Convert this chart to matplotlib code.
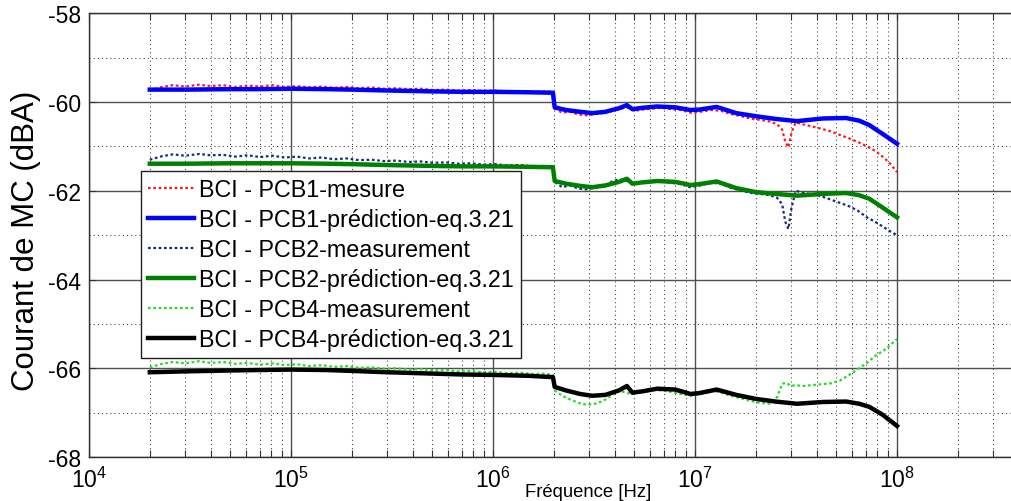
import matplotlib
matplotlib.use("Agg")
import matplotlib.pyplot as plt
from matplotlib.ticker import LogLocator, MultipleLocator, NullFormatter

plt.rcParams['font.family'] = ['Liberation Sans', 'DejaVu Sans']
plt.rcParams['axes.unicode_minus'] = False
plt.rcParams['mathtext.fontset'] = 'custom'
plt.rcParams['mathtext.rm'] = 'Liberation Sans'
plt.rcParams['mathtext.it'] = 'Liberation Sans:italic'
plt.rcParams['mathtext.bf'] = 'Liberation Sans:bold'

# ---------------- data ----------------
labels = ["BCI - PCB1-mesure", "BCI - PCB1-prédiction-eq.3.21",
          "BCI - PCB2-measurement", "BCI - PCB2-prédiction-eq.3.21",
          "BCI - PCB4-measurement", "BCI - PCB4-prédiction-eq.3.21"]

f_pred = [2e4, 3e4, 5e4, 7e4, 1e5, 1.5e5, 2e5, 3e5, 5e5, 7e5, 1e6, 1.5e6, 1.98e6,
          2.02e6, 2.3e6, 2.7e6, 3.1e6, 3.6e6, 4.2e6, 4.6e6, 4.9e6, 5.5e6, 6.5e6, 8e6,
          9.5e6, 1.05e7, 1.28e7, 1.6e7, 2.0e7, 2.5e7, 3.2e7, 4.3e7, 5.6e7, 6.5e7,
          7.3e7, 8.5e7, 1e8]

pcb1_pred = [-59.72, -59.72, -59.71, -59.71, -59.70, -59.71, -59.72, -59.74, -59.76,
             -59.77, -59.77, -59.78, -59.79,
             -60.12, -60.18, -60.22, -60.25, -60.22, -60.14, -60.07, -60.16, -60.13,
             -60.10, -60.12, -60.18, -60.17, -60.11, -60.25, -60.32, -60.38, -60.43,
             -60.37, -60.36, -60.42, -60.52, -60.72, -60.94]

pcb2_pred = [-61.39, -61.39, -61.38, -61.38, -61.38, -61.39, -61.40, -61.42, -61.44,
             -61.45, -61.45, -61.46, -61.47,
             -61.78, -61.84, -61.89, -61.92, -61.88, -61.80, -61.73, -61.84, -61.81,
             -61.78, -61.80, -61.87, -61.85, -61.79, -61.94, -62.03, -62.07, -62.11,
             -62.07, -62.05, -62.10, -62.18, -62.38, -62.60]

pcb4_pred = [-66.09, -66.07, -66.05, -66.04, -66.03, -66.04, -66.06, -66.09, -66.12,
             -66.14, -66.15, -66.17, -66.20,
             -66.42, -66.50, -66.58, -66.62, -66.60, -66.50, -66.40, -66.55, -66.52,
             -66.46, -66.48, -66.58, -66.56, -66.48, -66.60, -66.69, -66.75, -66.80,
             -66.76, -66.75, -66.80, -66.87, -67.05, -67.30]

f_meas = [2.0e4, 2.3e4, 2.6e4, 3.0e4, 3.5e4, 4.0e4, 4.6e4, 5.3e4, 6.1e4, 7.0e4, 8.1e4,
          9.3e4, 1.07e5, 1.23e5, 1.42e5, 1.64e5, 1.88e5, 2.17e5, 2.5e5, 2.88e5,
          3.31e5, 3.82e5, 4.4e5, 5.06e5, 5.83e5, 6.72e5, 7.74e5, 8.91e5, 1.03e6,
          1.18e6, 1.36e6, 1.57e6, 1.8e6, 1.98e6,
          2.02e6, 2.2e6, 2.4e6, 2.65e6, 2.9e6, 3.2e6, 3.5e6, 3.85e6, 4.2e6, 4.6e6,
          5.0e6, 5.5e6, 6.1e6, 6.8e6, 7.6e6, 8.5e6, 9.5e6,
          1.06e7, 1.2e7, 1.35e7, 1.5e7, 1.7e7, 1.9e7, 2.1e7, 2.35e7, 2.55e7, 2.7e7,
          2.8e7, 2.9e7, 3.0e7, 3.15e7, 3.4e7, 3.8e7, 4.2e7, 4.7e7, 5.2e7, 5.8e7,
          6.4e7, 7.1e7, 7.8e7, 8.6e7, 9.3e7, 1.0e8]

pcb1_meas = [-59.74, -59.66, -59.62, -59.65, -59.61, -59.64, -59.62, -59.66, -59.63,
             -59.65, -59.62, -59.66, -59.64, -59.67, -59.65, -59.68, -59.66, -59.69,
             -59.67, -59.70, -59.69, -59.71, -59.70, -59.73, -59.72, -59.74, -59.73,
             -59.75, -59.74, -59.76, -59.75, -59.77, -59.76, -59.78,
             -60.15, -60.24, -60.22, -60.28, -60.30, -60.27, -60.25, -60.20, -60.16,
             -60.12, -60.20, -60.17, -60.15, -60.13, -60.16, -60.18, -60.24,
             -60.22, -60.18, -60.20, -60.27, -60.32, -60.38, -60.40, -60.44, -60.50,
             -60.62, -60.90, -61.02, -60.70, -60.46, -60.50, -60.55, -60.60, -60.66,
             -60.74, -60.82, -60.90, -61.00, -61.10, -61.25, -61.40, -61.58]

pcb2_meas = [-61.30, -61.22, -61.18, -61.21, -61.17, -61.20, -61.19, -61.23, -61.20,
             -61.24, -61.21, -61.25, -61.23, -61.27, -61.25, -61.29, -61.27, -61.31,
             -61.30, -61.33, -61.32, -61.35, -61.34, -61.37, -61.36, -61.39, -61.38,
             -61.41, -61.40, -61.43, -61.42, -61.45, -61.44, -61.46,
             -61.80, -61.92, -61.88, -61.95, -61.97, -61.93, -61.90, -61.80, -61.74,
             -61.78, -61.84, -61.82, -61.80, -61.79, -61.82, -61.85, -61.92,
             -61.88, -61.82, -61.84, -61.93, -62.00, -62.05, -62.07, -62.10, -62.16,
             -62.30, -62.70, -62.86, -62.40, -62.00, -62.04, -62.08, -62.12, -62.20,
             -62.27, -62.35, -62.45, -62.60, -62.70, -62.82, -62.92, -63.00]

pcb4_meas = [-65.98, -65.90, -65.86, -65.89, -65.84, -65.88, -65.86, -65.90, -65.88,
             -65.92, -65.89, -65.93, -65.91, -65.95, -65.93, -65.97, -65.95, -65.99,
             -65.98, -66.01, -66.00, -66.03, -66.02, -66.05, -66.04, -66.07, -66.06,
             -66.09, -66.08, -66.11, -66.10, -66.13, -66.12, -66.15,
             -66.50, -66.62, -66.70, -66.78, -66.82, -66.80, -66.74, -66.62, -66.50,
             -66.56, -66.58, -66.52, -66.48, -66.50, -66.53, -66.58, -66.62,
             -66.58, -66.50, -66.55, -66.62, -66.68, -66.74, -66.78, -66.80, -66.65,
             -66.35, -66.33, -66.36, -66.40, -66.38, -66.40, -66.38, -66.36, -66.34,
             -66.28, -66.15, -66.02, -65.88, -65.72, -65.60, -65.47, -65.34]

x_limits = [1e4, 1e9]
x_ticks = [1e4, 1e5, 1e6, 1e7, 1e8, 1e9]
x_tick_labels = [r'$10^{4}$', r'$10^{5}$', r'$10^{6}$', r'$10^{7}$', r'$10^{8}$', '']
y_limits = [-68, -58]
y_ticks = [-68, -66, -64, -62, -60, -58]

# ---------------- figure ----------------
W, H = 1011, 502
fig = plt.figure(figsize=(W / 100, H / 100), dpi=100)
ax = fig.add_axes([89 / W, 44 / H, 1010 / W, 443.7 / H])

meas_ls = (0, (1.2, 1.2))
ax.plot(f_meas, pcb1_meas, color='#ff1a1a', lw=1.6, ls=meas_ls, label=labels[0], zorder=3)
ax.plot(f_pred, pcb1_pred, color='#0000ff', lw=3.2, label=labels[1], zorder=4)
ax.plot(f_meas, pcb2_meas, color='#1a2a80', lw=1.6, ls=meas_ls, label=labels[2], zorder=3)
ax.plot(f_pred, pcb2_pred, color='#008000', lw=3.2, label=labels[3], zorder=4)
ax.plot(f_meas, pcb4_meas, color='#22dd22', lw=1.6, ls=meas_ls, label=labels[4], zorder=3)
ax.plot(f_pred, pcb4_pred, color='#000000', lw=3.2, label=labels[5], zorder=4)

ax.set_xscale('log')
ax.set_xlim(x_limits)
ax.set_ylim(y_limits)
ax.set_xticks(x_ticks, labels=x_tick_labels)
ax.set_yticks(y_ticks)
ax.yaxis.set_minor_locator(MultipleLocator(1))
ax.xaxis.set_minor_locator(LogLocator(base=10, subs=[2, 3, 4, 5, 6, 7, 8, 9], numticks=20))
ax.xaxis.set_minor_formatter(NullFormatter())
ax.set_xlim(x_limits)

ax.grid(True, which='major', color='#505050', lw=1.0, ls='-', zorder=0)
ax.grid(True, which='minor', color='#404040', lw=0.75, ls=(0, (1, 3)), zorder=0)
ax.set_axisbelow(True)

ax.tick_params(which='both', direction='in', top=True, right=True, labelsize=16.5,
               width=0.8, color='#303030')
ax.tick_params(which='major', length=5, pad=6)
ax.tick_params(axis='x', which='minor', length=5)
ax.tick_params(axis='y', which='minor', length=0)
ax.tick_params(axis='x', which='major', pad=7)
for s in ax.spines.values():
    s.set_color('#303030')
    s.set_linewidth(1.0)

ax.set_xlabel("Fréquence [Hz]", fontsize=13.3)
ax.xaxis.set_label_coords(0.494, -0.0879)
ax.xaxis.label.set_va('baseline')
ax.set_ylabel("Courant de MC (dBA)", fontsize=22.5)
ax.yaxis.set_label_coords(-0.0624, 0.49)
ax.yaxis.label.set_va('center')

leg = ax.legend(loc='upper left', bbox_to_anchor=((141 - 89) / 1010, (458 - 172) / 443.7),
                borderaxespad=0, fontsize=16.8, frameon=True, fancybox=False,
                edgecolor='#202020', framealpha=1, handlelength=1.95, handletextpad=0.25,
                labelspacing=0.3, borderpad=0.3)
leg.get_frame().set_linewidth(1.0)
leg.set_zorder(10)

fig.savefig("out.png", dpi=100)
